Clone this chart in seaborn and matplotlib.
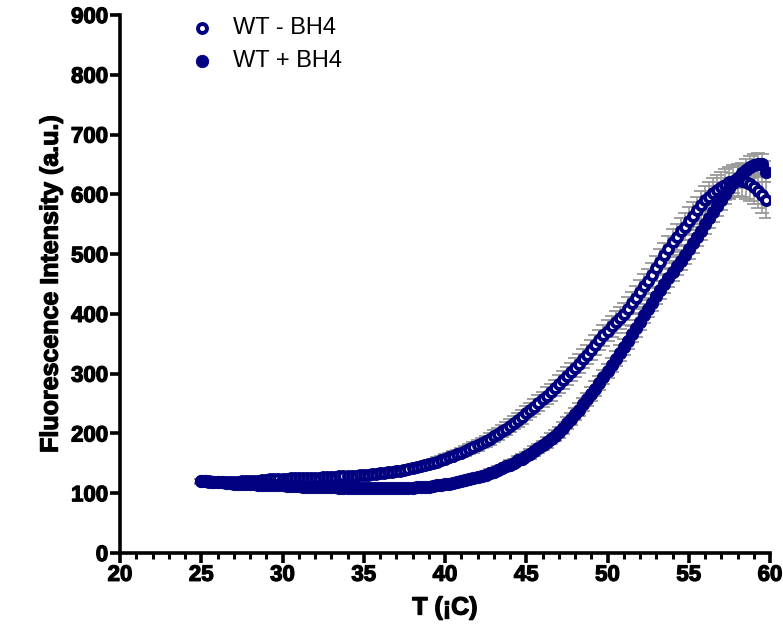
import numpy as np
import pandas as pd
import matplotlib
matplotlib.use("Agg")
import matplotlib.pyplot as plt
from matplotlib.ticker import MultipleLocator
import matplotlib.patheffects as pe
import seaborn as sns

# Temperature axis (deg C), 0.25 step
temperature = np.arange(25.0, 59.76, 0.25)

# WT - BH4 (open circles)
wt_minus = [
    120, 120, 120, 119, 119, 119, 119, 119, 119, 119, 120, 120, 120, 121, 121, 122, 122, 123, 123, 124,
    124, 124, 125, 125, 125, 125, 126, 126, 126, 126, 127, 127, 127, 127, 128, 128, 128, 129, 129, 130,
    130, 131, 132, 132, 133, 134, 135, 136, 137, 138, 139, 141, 142, 144, 145, 147, 149, 151, 153, 156,
    158, 160, 163, 165, 168, 171, 174, 177, 180, 184, 187, 191, 195, 199, 204, 208, 213, 218, 223, 228,
    234, 239, 245, 251, 257, 263, 269, 276, 282, 289, 296, 303, 310, 317, 325, 332, 340, 348, 356, 364,
    372, 379, 386, 393, 400, 409, 418, 427, 437, 446, 455, 465, 476, 487, 498, 509, 520, 529, 538, 546,
    555, 564, 573, 582, 590, 596, 602, 607, 612, 616, 620, 622, 624, 623, 621, 617, 612, 606, 599, 590,
]
wt_minus_err = [
    4, 4, 4, 4, 4, 4, 4, 4, 4, 4, 4, 4, 4, 4, 4, 4, 4, 4, 4, 4,
    4, 4, 4, 4, 4, 4, 4, 4, 5, 5, 5, 5, 5, 5, 5, 5, 5, 5, 5, 5,
    5, 5, 5, 5, 5, 5, 5, 6, 6, 6, 6, 6, 6, 6, 6, 6, 7, 7, 7, 7,
    7, 7, 7, 8, 8, 8, 8, 9, 9, 9, 9, 10, 10, 10, 10, 11, 11, 11, 12, 12,
    12, 12, 13, 13, 13, 14, 14, 14, 15, 15, 15, 15, 16, 16, 16, 16, 17, 17, 17, 17,
    18, 18, 18, 18, 19, 19, 19, 19, 20, 20, 20, 20, 21, 21, 21, 21, 22, 22, 22, 22,
    23, 23, 23, 24, 24, 24, 25, 25, 26, 26, 26, 27, 27, 28, 28, 28, 29, 29, 30, 30,
]

# WT + BH4 (filled circles)
wt_plus = [
    120, 120, 119, 119, 118, 118, 117, 117, 116, 116, 116, 115, 115, 115, 114, 114, 114, 113, 113, 113,
    113, 112, 112, 112, 112, 111, 111, 111, 111, 110, 110, 110, 110, 110, 109, 109, 109, 109, 108, 108,
    108, 108, 108, 108, 108, 108, 108, 108, 108, 108, 109, 109, 109, 110, 110, 111, 111, 112, 113, 114,
    115, 116, 117, 119, 120, 122, 123, 125, 127, 129, 131, 134, 136, 139, 142, 145, 148, 151, 155, 158,
    162, 166, 171, 175, 180, 185, 191, 196, 202, 209, 217, 224, 232, 240, 249, 257, 266, 275, 284, 294,
    305, 315, 325, 335, 345, 355, 366, 376, 387, 398, 409, 419, 430, 440, 450, 460, 470, 480, 489, 499,
    508, 518, 529, 539, 550, 560, 570, 580, 590, 600, 610, 619, 628, 635, 641, 646, 649, 651, 650, 638,
]
wt_plus_err = [
    3, 3, 3, 3, 3, 3, 3, 3, 3, 3, 3, 3, 3, 3, 3, 3, 3, 3, 3, 3,
    3, 3, 3, 3, 3, 3, 3, 3, 3, 3, 3, 3, 3, 3, 3, 3, 3, 3, 3, 3,
    3, 3, 3, 3, 3, 3, 3, 3, 3, 3, 4, 4, 4, 4, 4, 4, 4, 4, 4, 4,
    4, 4, 4, 4, 4, 5, 5, 5, 5, 5, 5, 6, 6, 6, 6, 6, 7, 7, 7, 7,
    7, 8, 8, 8, 8, 9, 9, 9, 9, 10, 10, 10, 10, 11, 11, 11, 11, 12, 12, 12,
    12, 12, 13, 13, 13, 13, 13, 14, 14, 14, 14, 14, 14, 15, 15, 15, 15, 15, 15, 15,
    16, 16, 16, 16, 16, 16, 17, 17, 17, 17, 17, 17, 18, 18, 18, 18, 18, 18, 18, 18,
]

series_labels = ["WT - BH4", "WT + BH4"]
x_ticks = [20, 25, 30, 35, 40, 45, 50, 55, 60]
y_ticks = [0, 100, 200, 300, 400, 500, 600, 700, 800, 900]

navy = "#000080"

df_minus = pd.DataFrame({"T": temperature, "F": wt_minus, "err": wt_minus_err})
df_plus = pd.DataFrame({"T": temperature, "F": wt_plus, "err": wt_plus_err})

sns.set_style("ticks")
plt.rcParams["font.family"] = ["Liberation Sans", "DejaVu Sans"]
plt.rcParams["text.color"] = "black"
plt.rcParams["axes.labelcolor"] = "black"
plt.rcParams["xtick.color"] = "black"
plt.rcParams["ytick.color"] = "black"

fig = plt.figure(figsize=(7.83, 6.37), dpi=100)
ax = fig.add_axes([120 / 783, 84 / 637, 650 / 783, 538 / 637])

# error bars (gray, behind markers)
for d in (df_minus, df_plus):
    ax.errorbar(d["T"], d["F"], yerr=d["err"], fmt="none", ecolor="#999999",
                elinewidth=1.2, capsize=5, capthick=1.3, zorder=1)

sns.scatterplot(data=df_minus, x="T", y="F", ax=ax, marker="o", s=42,
                facecolor="white", edgecolor=navy, linewidth=2.8,
                label=series_labels[0], zorder=2)
sns.scatterplot(data=df_plus, x="T", y="F", ax=ax, marker="o", s=80,
                color=navy, edgecolor=navy, linewidth=0.6,
                label=series_labels[1], zorder=3)

ax.set_xlim(20, 60)
ax.set_ylim(0, 900)
ax.set_xticks(x_ticks)
ax.set_yticks(y_ticks)
ax.xaxis.set_minor_locator(MultipleLocator(1))

sns.despine(ax=ax)
for side in ("left", "bottom"):
    ax.spines[side].set_linewidth(2.6)
    ax.spines[side].set_color("black")

ax.tick_params(axis="both", which="major", direction="out", length=7, width=2.6,
               color="black", labelsize=16, pad=1.5, labelcolor="black")
ax.tick_params(axis="x", which="minor", direction="out", length=4, width=2.2, color="black")
heavy = [pe.withStroke(linewidth=0.9, foreground="black")]
for lab in ax.get_xticklabels() + ax.get_yticklabels():
    lab.set_fontweight("bold")
    lab.set_path_effects(heavy)

xl = ax.set_xlabel("T (¡C)", fontsize=18, fontweight="bold", labelpad=7)
yl = ax.set_ylabel("Fluorescence Intensity (a.u.)", fontsize=18, fontweight="bold", labelpad=6)
xl.set_path_effects(heavy)
yl.set_path_effects(heavy)

leg = ax.legend(loc="upper left", bbox_to_anchor=(0.072, 1.035), frameon=False,
                fontsize=17, handletextpad=0.7, labelspacing=0.45, markerscale=1.0,
                handlelength=1.2)

fig.savefig("out.png", dpi=100)
